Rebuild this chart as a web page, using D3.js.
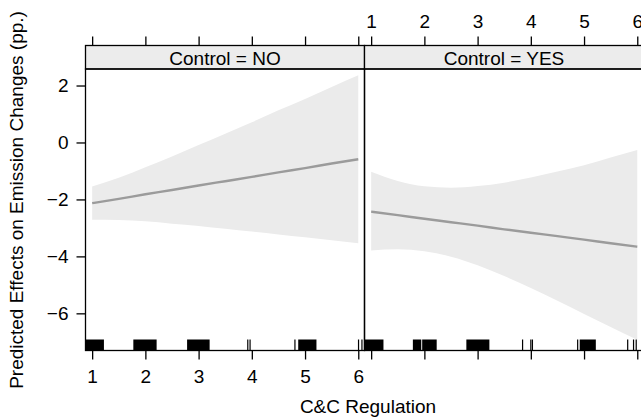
<!DOCTYPE html>
<html>
<head>
<meta charset="utf-8">
<script src="https://cdn.jsdelivr.net/npm/d3@7"></script>
<style>
  body { margin: 0; background: #fff; }
  text { font-family: "Liberation Sans", Arial, Helvetica, sans-serif; }
</style>
</head>
<body>
<div id="chart"></div>
<script>
// values
const xGrid = [1, 1.5, 2, 2.5, 3, 3.5, 4, 4.5, 5, 5.5, 6];

const fitNo = [-2.13, -1.98, -1.82, -1.67, -1.51, -1.36, -1.21, -1.05, -0.9, -0.74, -0.59];
const upperNo = [-1.55, -1.24, -0.87, -0.49, -0.09, 0.31, 0.71, 1.13, 1.53, 1.95, 2.36];
const lowerNo = [-2.71, -2.72, -2.77, -2.85, -2.93, -3.03, -3.13, -3.23, -3.33, -3.43, -3.54];

const fitYes = [-2.43, -2.55, -2.68, -2.8, -2.92, -3.05, -3.17, -3.29, -3.41, -3.54, -3.66];
const upperYes = [-1.03, -1.35, -1.54, -1.59, -1.53, -1.41, -1.23, -1.02, -0.8, -0.53, -0.26];
const lowerYes = [-3.79, -3.75, -3.82, -4.01, -4.31, -4.69, -5.11, -5.56, -6.02, -6.48, -6.93];

// rug marks: [from, to] in C&C Regulation units (dense clusters show as blocks)
const rugNo = [[0.86, 1.21], [1.785, 2.2], [2.795, 3.196], [3.924, 3.924], [3.967, 3.967],
  [4.81, 4.81], [4.883, 5.203], [6.005, 6.005], [6.069, 6.069]];
const rugYes = [[0.87, 1.22], [1.795, 1.93], [1.97, 2.22], [2.8, 3.21], [3.845, 3.845],
  [4.0, 4.0], [4.03, 4.03], [4.88, 4.88], [4.93, 5.21], [5.82, 5.82], [5.93, 5.93], [5.98, 5.98]];

const xTicks = [1, 2, 3, 4, 5, 6];
const yTicks = [-6, -4, -2, 0, 2];
const panelNames = ["Control = NO", "Control = YES"];

const W = 641, H = 417;
const panelLeft = 85.5, panelMid = 364.5, panelRight = 643.5;
const stripTop = 45.5, panelTop = 69, panelBottom = 350.5;
const fontSize = "19px";

const svg = d3.select("#chart").append("svg")
  .attr("width", W)
  .attr("height", H);

const y = d3.scaleLinear().domain([-7.305, 2.58]).range([panelBottom, panelTop]);

const panels = [
  { name: panelNames[0], x0: panelLeft, x1: panelMid, fit: fitNo, upper: upperNo, lower: lowerNo, rug: rugNo, topLabels: false, bottomLabels: true },
  { name: panelNames[1], x0: panelMid, x1: panelRight, fit: fitYes, upper: upperYes, lower: lowerYes, rug: rugYes, topLabels: true, bottomLabels: false }
];

panels.forEach((p, i) => {
  const x = d3.scaleLinear().domain([0.875, 6.117]).range([p.x0, p.x1]);
  const g = svg.append("g");

  svg.append("clipPath").attr("id", "clip" + i)
    .append("rect")
    .attr("x", p.x0).attr("y", panelTop)
    .attr("width", p.x1 - p.x0).attr("height", panelBottom - panelTop);

  const inner = g.append("g").attr("clip-path", `url(#clip${i})`);

  // confidence band
  const area = d3.area()
    .x((d, j) => x(xGrid[j]))
    .y0((d, j) => y(p.lower[j]))
    .y1((d, j) => y(p.upper[j]))
    .curve(d3.curveMonotoneX);
  inner.append("path")
    .datum(xGrid)
    .attr("d", area)
    .attr("fill", "#ebebeb");

  // fitted line
  const line = d3.line()
    .x((d, j) => x(xGrid[j]))
    .y((d, j) => y(p.fit[j]))
    .curve(d3.curveMonotoneX);
  inner.append("path")
    .datum(xGrid)
    .attr("d", line)
    .attr("fill", "none")
    .attr("stroke", "#9b9b9b")
    .attr("stroke-width", 2.4);

  // rug
  inner.selectAll("rect.rug")
    .data(p.rug)
    .join("rect")
    .attr("class", "rug")
    .attr("x", d => x(d[0]) - 0.6)
    .attr("width", d => Math.max(1.2, x(d[1]) - x(d[0]) + 1.2))
    .attr("y", panelBottom - 11)
    .attr("height", 11)
    .attr("fill", "#000");

  // strip
  g.append("rect")
    .attr("x", p.x0).attr("y", stripTop)
    .attr("width", p.x1 - p.x0).attr("height", panelTop - stripTop)
    .attr("fill", "#ececec")
    .attr("stroke", "#000")
    .attr("stroke-width", 1.3);
  g.append("text")
    .attr("x", (p.x0 + p.x1) / 2)
    .attr("y", panelTop - 4)
    .attr("text-anchor", "middle")
    .style("font-size", fontSize)
    .text(p.name);

  // panel border
  g.append("rect")
    .attr("x", p.x0).attr("y", panelTop)
    .attr("width", p.x1 - p.x0).attr("height", panelBottom - panelTop)
    .attr("fill", "none")
    .attr("stroke", "#000")
    .attr("stroke-width", 1.3);

  // top axis (above strip)
  const topAxis = g.append("g")
    .attr("transform", `translate(0,${stripTop})`)
    .call(d3.axisTop(x).tickValues(xTicks).tickSize(9).tickPadding(9)
      .tickFormat(p.topLabels ? d3.format("d") : ""));
  // bottom axis
  const bottomAxis = g.append("g")
    .attr("transform", `translate(0,${panelBottom})`)
    .call(d3.axisBottom(x).tickValues(xTicks).tickSize(9).tickPadding(10)
      .tickFormat(p.bottomLabels ? d3.format("d") : ""));

  [topAxis, bottomAxis].forEach(a => {
    a.select(".domain").remove();
    a.selectAll("line").attr("stroke-width", 1.3);
    a.selectAll("text").style("font-size", fontSize).attr("fill", "#000")
      .style("font-family", "'Liberation Sans', Arial, sans-serif");
  });
});

// left axis
const leftAxis = svg.append("g")
  .attr("transform", `translate(${panelLeft},0)`)
  .call(d3.axisLeft(y).tickValues(yTicks).tickSize(9).tickPadding(8));
leftAxis.select(".domain").remove();
leftAxis.selectAll("line").attr("stroke-width", 1.3);
leftAxis.selectAll("text").style("font-size", fontSize).attr("fill", "#000")
  .style("font-family", "'Liberation Sans', Arial, sans-serif");

// axis titles
svg.append("text")
  .attr("transform", `translate(${23},${200}) rotate(-90)`)
  .attr("text-anchor", "middle")
  .style("font-size", fontSize)
  .text("Predicted Effects on Emission Changes (pp.)");

svg.append("text")
  .attr("x", 368)
  .attr("y", 413)
  .attr("text-anchor", "middle")
  .style("font-size", fontSize)
  .text("C&C Regulation");
</script>
</body>
</html>
